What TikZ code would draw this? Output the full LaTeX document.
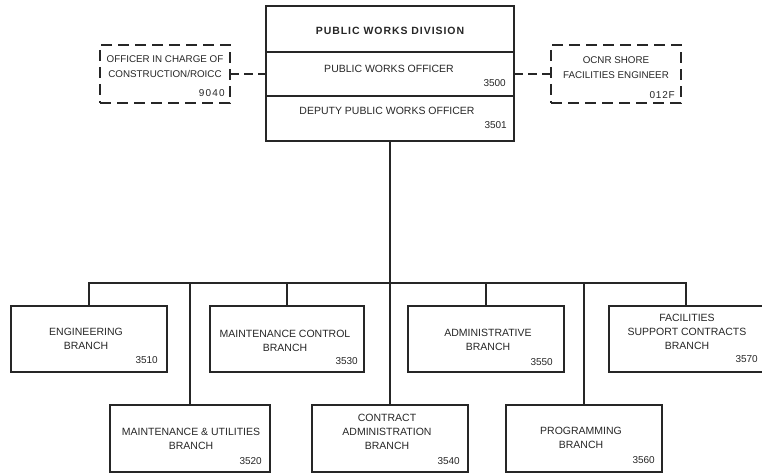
\documentclass[tikz,border=0pt]{standalone}
\usepackage{fontspec}
\setmainfont{Liberation Sans}
\definecolor{ink}{HTML}{262626}
% place a box node by its corner coordinates: style, name, x1, y1, x2, y2
\newcommand\orgbox[6]{%
  \node[#1, minimum width={#5-#3}, minimum height={#6-#4}] (#2) at ({(#3+#5)/2},{(#4+#6)/2}) {};}
\begin{document}
\begin{tikzpicture}[x=1pt,y=-1pt,
  box/.style={draw=ink, line width=2pt, rectangle, inner sep=0pt, outer sep=0pt},
  dbox/.style={box, dash pattern=on 11pt off 6pt},
  wire/.style={draw=ink, line width=2pt},
  dwire/.style={wire, dash pattern=on 9pt off 5pt},
  txt/.style={font=\fontsize{10.5}{14}\selectfont, align=center, text=ink, inner sep=0pt},
  stxt/.style={txt, font=\fontsize{9.8}{14.5}\selectfont},
  ttl/.style={txt, font=\fontsize{10.5}{14}\selectfont\bfseries\addfontfeature{LetterSpace=9}},
  num/.style={font=\fontsize{10}{12}\selectfont, text=ink, anchor=east, inner sep=0pt},
]
\useasboundingbox (0,0) rectangle (762,473);

% headquarters block
\orgbox{box}{pwdiv}{266}{6}{514}{52}
\orgbox{box}{pwo}{266}{52}{514}{96}
\orgbox{box}{dpwo}{266}{96}{514}{141}
\node[ttl] (tdiv) at (390,31) {PUBLIC WORKS DIVISION};
\node[txt] (tpwo) at (389,69) {PUBLIC WORKS OFFICER};
\node[num] (npwo) at (506,83) {3500};
\node[txt] (tdpwo) at (387,111) {DEPUTY PUBLIC WORKS OFFICER};
\node[num] (ndpwo) at (507,125) {3501};

% staff offices (dashed)
\orgbox{dbox}{oicc}{100}{45}{230}{103}
\node[stxt] (toicc) at (165,66.5) {OFFICER IN CHARGE OF\\CONSTRUCTION/ROICC};
\node[num, font=\fontsize{10}{12}\selectfont\addfontfeature{LetterSpace=12}] (noicc) at (225,93) {9040};
\orgbox{dbox}{ocnr}{551}{45}{681}{103}
\node[stxt] (tocnr) at (616,67.5) {OCNR SHORE\\FACILITIES ENGINEER};
\node[num, font=\fontsize{10}{12}\selectfont\addfontfeature{LetterSpace=8}] (nocnr) at (675,95) {012F};

% upper row of branches
\orgbox{box}{eng}{11}{306}{167}{372}
\node[txt] (teng) at (86,339) {ENGINEERING\\BRANCH};
\node[num] (neng) at (158,360) {3510};
\orgbox{box}{mc}{210}{306}{364}{372}
\node[txt] (tmc) at (285,340.5) {MAINTENANCE CONTROL\\BRANCH};
\node[num] (nmc) at (358,361) {3530};
\orgbox{box}{adm}{408}{306}{564}{372}
\node[txt] (tadm) at (488,340) {ADMINISTRATIVE\\BRANCH};
\node[num] (nadm) at (553,362) {3550};
\orgbox{box}{fsc}{609}{306}{763}{372}
\node[txt] (tfsc) at (687,332) {FACILITIES\\SUPPORT CONTRACTS\\BRANCH};
\node[num] (nfsc) at (758,359) {3570};

% lower row of branches
\orgbox{box}{mu}{110}{405}{270}{472}
\node[txt] (tmu) at (191,439) {MAINTENANCE \& UTILITIES\\BRANCH};
\node[num] (nmu) at (262,461) {3520};
\orgbox{box}{cab}{312}{405}{468}{472}
\node[txt] (tcab) at (387,432) {CONTRACT\\ADMINISTRATION\\BRANCH};
\node[num] (ncab) at (460,461) {3540};
\orgbox{box}{prg}{506}{405}{662}{472}
\node[txt] (tprg) at (581,438) {PROGRAMMING\\BRANCH};
\node[num] (nprg) at (655,460) {3560};

% connectors
\coordinate (bus) at (390,283);
\draw[wire] (dpwo.south) -- (cab.north);
\draw[wire] (eng.north) |- (bus) -| (fsc.north);
\foreach \b in {mc, adm, mu, prg}
  \draw[wire] (\b.north) -- (\b.north |- bus);
\draw[dwire] (oicc.east) -- (pwo.west);
\draw[dwire] (pwo.east) -- (ocnr.west);
\end{tikzpicture}
\end{document}
